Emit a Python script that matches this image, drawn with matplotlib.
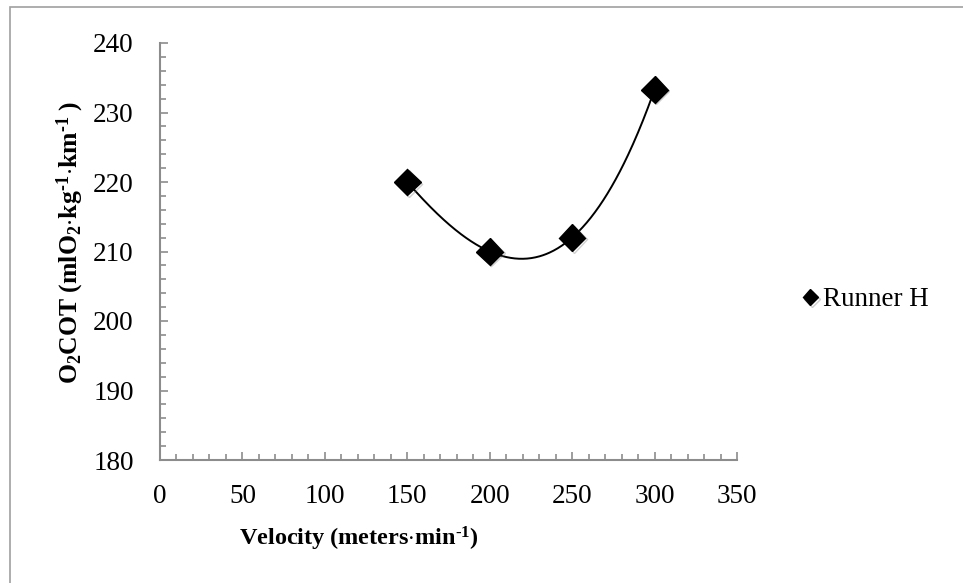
import numpy as np
import matplotlib
matplotlib.use("Agg")
import matplotlib.pyplot as plt
import matplotlib.patheffects as pe
from matplotlib.patches import Rectangle
from matplotlib.ticker import MultipleLocator

plt.rcParams['font.family'] = ['Liberation Serif', 'DejaVu Serif']
plt.rcParams['mathtext.fontset'] = 'custom'
plt.rcParams['mathtext.rm'] = 'Liberation Serif'
plt.rcParams['mathtext.bf'] = 'Liberation Serif:bold'
plt.rcParams['mathtext.it'] = 'Liberation Serif:italic'

# Running velocity vs. oxygen cost of transport
velocity = [150, 200, 250, 300]
o2_cot = [220.0, 210.0, 212.0, 233.3]
series_name = "Runner H"
x_ticks = [0, 50, 100, 150, 200, 250, 300, 350]
y_ticks = [180, 190, 200, 210, 220, 230, 240]

W, H = 963, 583
fig = plt.figure(figsize=(W / 100, H / 100), dpi=100)

# outer chart frame (runs off the right and bottom edges)
fig.patches.append(Rectangle((10 / W, -0.2), 1.2, 1.2 - 7 / H, transform=fig.transFigure,
                             fill=False, edgecolor='#a0a0a0', linewidth=1.2))

ax = fig.add_axes([160 / W, 1 - 460 / H, (737 - 160) / W, (460 - 43) / H])

# polynomial trendline through the measurements
coef = np.polyfit(velocity, o2_cot, 3)
xs = np.linspace(min(velocity), max(velocity), 300)
ax.plot(xs, np.polyval(coef, xs), color='black', linewidth=1.4, zorder=2)

shadow = [pe.SimpleLineShadow(offset=(1.2, -1.2), shadow_color='#777777', alpha=0.35), pe.Normal()]
ax.plot(velocity, o2_cot, linestyle='none', marker='D', markersize=13.5,
        color='black', label=series_name, zorder=3, path_effects=shadow)

ax.set_xlim(x_ticks[0], x_ticks[-1])
ax.set_ylim(y_ticks[0], y_ticks[-1])
ax.set_xticks(x_ticks)
ax.set_yticks(y_ticks)
ax.xaxis.set_minor_locator(MultipleLocator(10))
ax.yaxis.set_minor_locator(MultipleLocator(2))

for s in ('top', 'right'):
    ax.spines[s].set_visible(False)
for s in ('left', 'bottom'):
    ax.spines[s].set_color('#8c8c8c')
    ax.spines[s].set_linewidth(1.5)

ax.tick_params(axis='both', which='both', direction='in', color='#8c8c8c', width=1.2)
ax.tick_params(axis='both', which='major', length=6, labelsize=19.5)
ax.tick_params(axis='both', which='minor', length=4)
ax.tick_params(axis='y', which='major', pad=19)
ax.tick_params(axis='x', which='major', pad=17)

fig.text(70 / W, 1 - 242 / H,
         r'$\mathbf{O_2COT\ (mlO_2{\cdot}kg^{‐1}{\cdot}km^{‐1}\ )}$',
         rotation=90, ha='center', va='center', fontsize=18.5)
fig.text(359 / W, 1 - 539 / H,
         r'$\mathbf{Velocity\ (meters{\cdot}min^{‐1})}$',
         ha='center', va='center', fontsize=17.5)

leg = ax.legend(loc='center left', bbox_to_anchor=(801 / W, 1 - 300 / H),
                bbox_transform=fig.transFigure, frameon=False, fontsize=19.5,
                markerscale=0.6, handlelength=0.7, handletextpad=0.1,
                borderpad=0, borderaxespad=0)

fig.savefig('out.png', dpi=100)
